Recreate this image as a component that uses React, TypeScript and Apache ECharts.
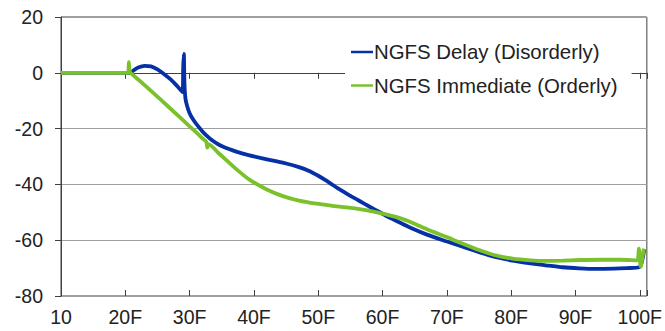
import React, { useEffect, useRef } from "react";
import * as echarts from "echarts";

const seriesNames = ["NGFS Delay (Disorderly)", "NGFS Immediate (Orderly)"];

const delayData: [number, number][] = [
  [10, 0], [20.8, 0], [21.3, 0.9], [22, 1.9], [23, 2.5], [24, 2.3], [25, 1.2], [26, -0.4],
  [27, -2.3], [28, -4.6], [28.9, -6.9], [29.0, 2], [29.1, 6.8], [29.2, -4], [29.35, -9.2],
  [29.6, -11.8], [30, -14.5], [30.5, -16.6], [31, -18.2], [32, -21], [32.6, -22.4],
  [33.5, -24.2], [34.5, -25.7], [35.5, -26.8], [36.7, -27.8], [38, -28.8], [39.3, -29.6],
  [41, -30.5], [43, -31.5], [45, -32.5], [47, -33.8], [48.5, -35.1], [50, -36.9],
  [51, -38.3], [52, -39.8], [53, -41.3], [54, -42.7], [55, -44.1], [56, -45.4], [57, -46.7],
  [58, -48], [59.5, -49.9], [61, -51.8], [63, -54], [64.7, -55.9], [67, -58.1],
  [69.9, -60.4], [72, -62], [75, -64.3], [77.5, -66], [80.2, -67.3], [83, -68.3],
  [85.4, -69], [88, -69.7], [90.6, -70.1], [93, -70.3], [96, -70.2], [98, -70],
  [99.9, -69.7], [100.3, -68], [100.7, -63.3],
];

const immediateData: [number, number][] = [
  [10, 0], [20.4, 0], [20.55, 3.8], [20.7, 0.3], [20.9, -0.2], [22, -2.4], [24, -6.5],
  [27, -12.8], [30, -19.2], [31, -21.3], [32, -23.5], [32.6, -24.8], [32.75, -26.8],
  [32.9, -25.6], [34.6, -29], [37, -34], [39.3, -38.3], [42, -41.8], [44.5, -44.2],
  [47, -45.8], [49.7, -46.9], [52, -47.6], [55, -48.4], [57.4, -49.2], [59.5, -50.2],
  [62.6, -52], [64.7, -53.8], [67, -56.2], [69.9, -58.8], [72, -60.8], [75, -63.5],
  [77.5, -65.4], [80.2, -66.6], [83, -67.2], [85.4, -67.4], [88, -67.3], [90.6, -67.1],
  [94, -67], [97, -67], [99.6, -67.2], [99.85, -63], [100.15, -69.5], [100.45, -65.5],
  [100.65, -63],
];

const xTickValues = [10, 20, 30, 40, 50, 60, 70, 80, 90, 100];
const xTickLabels = ["10", "20F", "30F", "40F", "50F", "60F", "70F", "80F", "90F", "100F"];
const yMin = -80;
const yMax = 20;
const yStep = 20;

const colors = ["#0630a6", "#7ac12c"];

export default function App() {
  const ref = useRef<HTMLDivElement>(null);
  useEffect(() => {
    document.body.style.margin = "0";
    if (!ref.current) return;
    const chart = echarts.init(ref.current, undefined, { renderer: "svg" });
    const fmtX = (v: number) => {
      const i = xTickValues.findIndex((t) => Math.abs(t - v) < 1e-6);
      return i >= 0 ? xTickLabels[i] : "";
    };
    const font = "'Liberation Sans', Arial, sans-serif";
    chart.setOption({
      animation: false,
      color: colors,
      grid: {
        left: 61,
        right: 18,
        top: 17,
        bottom: 35,
        show: true,
        borderColor: "#404040",
        borderWidth: 1,
        backgroundColor: "transparent",
      },
      legend: {
        data: seriesNames,
        orient: "vertical",
        left: 345,
        top: 30,
        itemWidth: 22,
        itemHeight: 14,
        itemGap: 13.5,
        padding: [12, 14, 12, 6],
        backgroundColor: "#ffffff",
        icon: "path://M0,6 L22,6 L22,8.5 L0,8.5 Z",
        textStyle: { fontSize: 20.4, color: "#222222", fontFamily: font, padding: [0, 0, 0, -4] },
      },
      xAxis: [
        {
          type: "value",
          min: 10,
          max: 101.1,
          interval: 10,
          axisLine: { show: true, lineStyle: { color: "#404040", width: 1 } },
          axisTick: { show: true, length: 6, lineStyle: { color: "#404040" } },
          axisLabel: {
            formatter: fmtX,
            fontSize: 19.5,
            color: "#222222",
            fontFamily: font,
            margin: 11,
          },
          splitLine: { show: false },
        },
        {
          type: "value",
          position: "bottom",
          min: 10,
          max: 101.1,
          interval: 10,
          axisLine: { show: false },
          axisTick: { show: true, inside: true, length: 6, lineStyle: { color: "#404040" } },
          axisLabel: { show: false },
          splitLine: { show: false },
        },
      ],
      yAxis: {
        type: "value",
        min: yMin,
        max: yMax,
        interval: yStep,
        axisLine: { show: true, lineStyle: { color: "#404040", width: 1 } },
        axisTick: { show: true, length: 6, lineStyle: { color: "#404040" } },
        axisLabel: { fontSize: 19.5, color: "#222222", fontFamily: font, margin: 18 },
        splitLine: { show: true, lineStyle: { color: "#a0a0a0", width: 1 } },
      },
      series: [
        {
          name: seriesNames[0],
          type: "line",
          data: delayData,
          showSymbol: false,
          smooth: 0.25,
          lineStyle: { width: 3.8, color: colors[0] },
        },
        {
          name: seriesNames[1],
          type: "line",
          data: immediateData,
          showSymbol: false,
          smooth: 0.25,
          lineStyle: { width: 3.8, color: colors[1] },
        },
      ],
    });
    return () => chart.dispose();
  }, []);
  return <div ref={ref} style={{ width: 665, height: 331 }} />;
}
